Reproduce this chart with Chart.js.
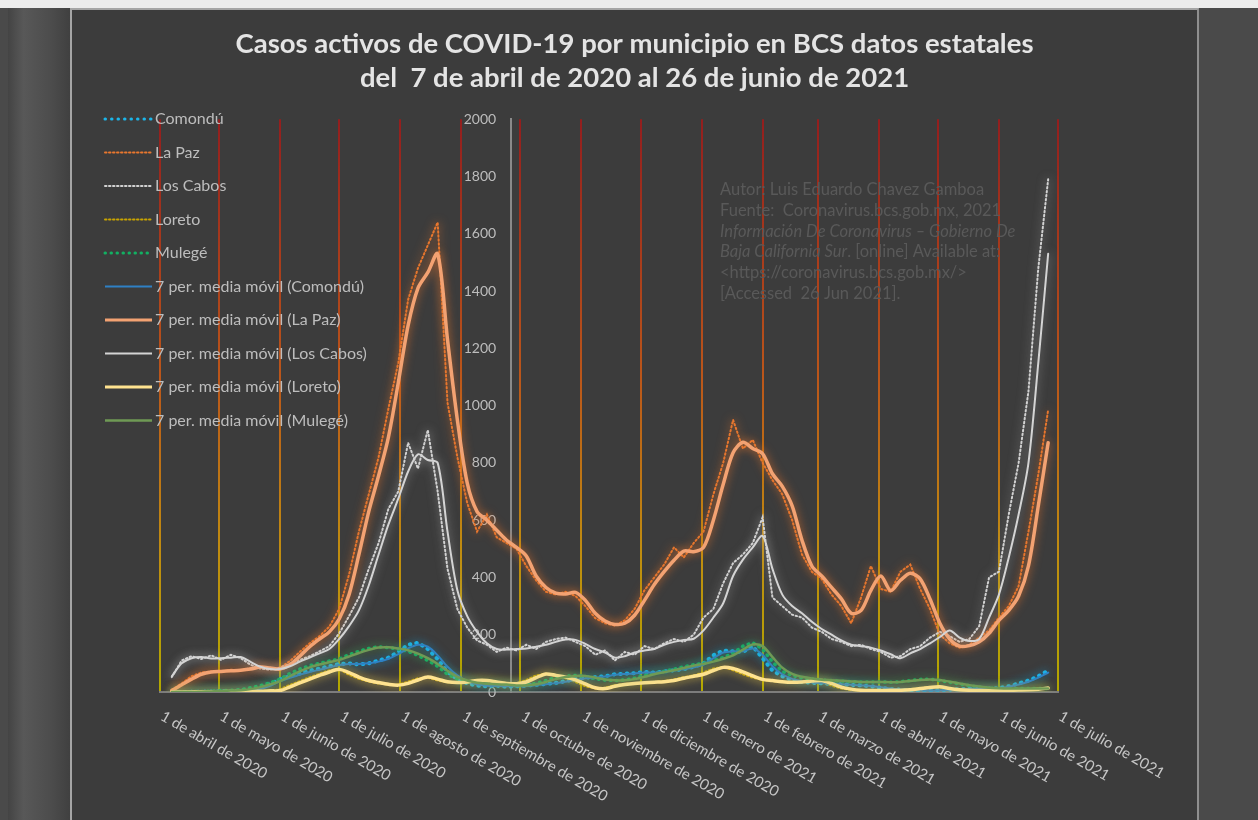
<!DOCTYPE html>
<html lang="es">
<head>
<meta charset="utf-8">
<title>Casos activos de COVID-19 por municipio en BCS</title>
<script src="https://cdn.jsdelivr.net/npm/chart.js@4.4.1/dist/chart.umd.min.js"></script>
<style>
  html, body { margin: 0; padding: 0; }
  body { width: 1258px; height: 820px; background: #4a4a4a; position: relative; overflow: hidden; }
  #franja { position: absolute; left: 0; top: 0; width: 1258px; height: 8px; background: #ececec; }
  #lateral { position: absolute; left: 8px; top: 8px; width: 62px; height: 812px;
    background: linear-gradient(90deg, #444444, #585858 25%, #4c4c4c 70%, #404040); }
  #marco { position: absolute; left: 70px; top: 8px; width: 1125px; height: 812px; background: #3c3c3c;
    border-left: 2px solid #a5a5a5; border-top: 2px solid #a5a5a5; border-right: 2px solid #8f8f8f; }
  canvas { display: block; }
</style>
</head>
<body>
<div id="franja"></div>
<div id="lateral"></div>
<div id="marco"><canvas id="grafica"></canvas></div>
<script>
// dias desde el 1 de abril de 2020 (una muestra cada 5 dias, 7 abr 2020 - 26 jun 2021)
const dias = [6, 11, 16, 21, 26, 31, 36, 41, 46, 51, 56, 61, 66, 71, 76, 81, 86, 91, 96, 101,
  106, 111, 116, 121, 126, 131, 136, 141, 146, 151, 156, 161, 166, 171, 176, 181, 186, 191, 196, 201,
  206, 211, 216, 221, 226, 231, 236, 241, 246, 251, 256, 261, 266, 271, 276, 281, 286, 291, 296, 301,
  306, 311, 316, 321, 326, 331, 336, 341, 346, 351, 356, 361, 366, 371, 376, 381, 386, 391, 396, 401,
  406, 411, 416, 421, 426, 431, 436, 441, 446, 451];

// inicio de cada mes (dias desde el 1 de abril de 2020) y sus etiquetas
const mesDias = [0, 30, 61, 91, 122, 153, 183, 214, 244, 275, 306, 334, 365, 395, 426, 456];
const etiquetasMes = ['1 de abril de 2020', '1 de mayo de 2020', '1 de junio de 2020', '1 de julio de 2020',
  '1 de agosto de 2020', '1 de septiembre de 2020', '1 de octubre de 2020', '1 de noviembre de 2020',
  '1 de diciembre de 2020', '1 de enero de 2021', '1 de febrero de 2021', '1 de marzo de 2021',
  '1 de abril de 2021', '1 de mayo de 2021', '1 de junio de 2021', '1 de julio de 2021'];

const comondu = [0, 0, 1, 1, 2, 2, 3, 5, 8, 15, 28, 45, 55, 65, 75, 82, 90, 98, 100, 96,
  100, 110, 120, 140, 165, 172, 150, 115, 70, 45, 30, 22, 20, 22, 18, 20, 22, 25, 28, 32,
  38, 45, 50, 52, 55, 62, 64, 66, 70, 68, 72, 76, 80, 88, 100, 128, 145, 142, 140, 160,
  118, 75, 55, 42, 35, 32, 30, 28, 27, 25, 23, 20, 15, 10, 8, 6, 5, 5, 6, 8,
  10, 12, 12, 12, 14, 20, 30, 40, 55, 75];
const laPaz = [8, 30, 55, 68, 72, 70, 78, 75, 84, 90, 80, 85, 108, 140, 170, 195, 228, 290, 410, 560,
  690, 820, 990, 1150, 1370, 1480, 1560, 1640, 1010, 820, 660, 560, 620, 540, 520, 500, 440, 390, 350, 340,
  350, 335, 300, 258, 240, 232, 250, 290, 355, 400, 445, 505, 470, 520, 560, 690, 800, 950, 850, 880,
  800, 740, 690, 600, 480, 420, 395, 340, 300, 240, 330, 440, 360, 350, 420, 445, 360, 290, 200, 170,
  155, 165, 190, 215, 260, 300, 370, 560, 760, 985];
const losCabos = [52, 110, 125, 115, 128, 112, 130, 118, 95, 82, 78, 85, 98, 112, 125, 142, 160, 205, 265, 330,
  430, 520, 640, 700, 870, 780, 915, 700, 430, 290, 225, 180, 165, 140, 155, 145, 165, 150, 175, 185,
  190, 175, 160, 130, 145, 110, 140, 130, 160, 150, 170, 185, 175, 200, 260, 290, 380, 450, 480, 520,
  610, 330, 300, 270, 260, 225, 210, 185, 175, 160, 165, 150, 140, 120, 125, 150, 160, 190, 210, 195,
  175, 185, 230, 400, 420, 620, 800, 1050, 1480, 1790];
const loreto = [0, 0, 1, 1, 1, 2, 2, 3, 3, 4, 4, 10, 25, 38, 52, 64, 76, 80, 60, 46,
  36, 30, 25, 26, 36, 48, 50, 40, 34, 33, 38, 42, 38, 32, 28, 31, 42, 58, 64, 55,
  48, 35, 20, 12, 15, 24, 28, 31, 33, 35, 38, 44, 52, 58, 68, 82, 88, 76, 62, 50,
  42, 38, 35, 34, 36, 40, 36, 22, 12, 7, 5, 5, 5, 6, 7, 10, 14, 18, 16, 10,
  7, 5, 5, 5, 6, 6, 8, 9, 12, 15];
const mulege = [0, 0, 1, 2, 3, 5, 6, 8, 15, 22, 32, 45, 65, 80, 92, 100, 108, 115, 130, 142,
  152, 158, 155, 150, 142, 128, 110, 90, 62, 45, 35, 30, 28, 27, 25, 22, 24, 30, 40, 50,
  55, 58, 54, 46, 42, 40, 42, 48, 58, 66, 72, 80, 88, 95, 100, 110, 120, 135, 160, 172,
  150, 105, 72, 58, 50, 45, 42, 40, 38, 36, 35, 35, 35, 34, 36, 40, 44, 45, 40, 34,
  28, 22, 17, 14, 12, 12, 12, 12, 12, 12];

// 7 per. media movil
const mmComondu = [0, 0, 0, 1, 1, 2, 2, 4, 6, 11, 22, 38, 50, 60, 70, 78, 86, 94, 98, 98,
  100, 106, 116, 132, 152, 165, 158, 128, 88, 58, 38, 27, 22, 21, 20, 20, 21, 24, 27, 31,
  36, 42, 48, 51, 54, 60, 63, 65, 68, 68, 71, 75, 79, 86, 96, 118, 138, 142, 142, 152,
  130, 90, 62, 46, 38, 33, 31, 29, 27, 25, 23, 21, 17, 12, 9, 7, 6, 5, 6, 7,
  9, 11, 12, 12, 13, 18, 26, 36, 50, 68];
const mmLaPaz = [5, 25, 45, 62, 70, 72, 74, 76, 80, 87, 84, 80, 95, 125, 158, 185, 210, 255, 340, 480,
  630, 755, 890, 1080, 1280, 1410, 1465, 1530, 1230, 950, 730, 630, 600, 565, 530, 505, 475, 405, 365, 345,
  342, 348, 320, 275, 248, 236, 240, 268, 320, 375, 420, 460, 492, 490, 505, 600, 725, 835, 872, 850,
  832, 762, 718, 650, 530, 440, 405, 365, 325, 275, 285, 355, 405, 354, 390, 415, 395, 325, 240, 185,
  160, 162, 175, 205, 250, 285, 335, 440, 650, 870];
const mmLosCabos = [55, 100, 118, 122, 117, 118, 120, 122, 105, 88, 80, 80, 90, 106, 120, 135, 150, 185, 230, 285,
  372, 480, 585, 675, 770, 830, 810, 800, 560, 355, 265, 210, 170, 150, 148, 150, 152, 158, 165, 175,
  183, 182, 168, 150, 138, 120, 125, 138, 145, 150, 165, 175, 182, 186, 215, 260, 310, 405, 462, 505,
  545, 430, 340, 300, 275, 245, 220, 200, 180, 165, 160, 155, 145, 132, 118, 135, 150, 170, 192, 215,
  190, 178, 185, 260, 340, 470, 620, 800, 1150, 1530];
const mmLoreto = [0, 0, 0, 1, 1, 1, 2, 2, 3, 3, 4, 5, 18, 32, 45, 58, 70, 79, 68, 52,
  40, 33, 27, 24, 30, 42, 52, 45, 36, 33, 35, 40, 40, 35, 30, 29, 35, 50, 63, 58,
  52, 42, 28, 15, 12, 20, 26, 30, 32, 34, 36, 40, 48, 55, 62, 75, 86, 82, 70, 56,
  44, 40, 36, 34, 35, 38, 40, 30, 17, 10, 6, 5, 5, 6, 6, 8, 12, 16, 18, 12,
  8, 6, 5, 5, 5, 6, 7, 8, 10, 14];
const mmMulege = [0, 0, 0, 1, 2, 3, 5, 6, 10, 17, 26, 38, 55, 72, 86, 96, 104, 112, 124, 136,
  147, 155, 156, 152, 146, 134, 118, 98, 74, 53, 40, 32, 29, 27, 26, 23, 23, 27, 35, 45,
  52, 56, 56, 50, 44, 41, 41, 45, 53, 62, 69, 76, 84, 92, 98, 106, 116, 128, 148, 166,
  160, 122, 85, 63, 53, 47, 43, 41, 39, 37, 35, 35, 35, 34, 35, 38, 42, 44, 42, 36,
  30, 24, 19, 15, 13, 12, 12, 12, 12, 12];

const ejeYEn = 178; // el eje vertical cruza aqui (dias)

const notaAutor = [
  [['Autor: Luis Eduardo Chavez Gamboa', false]],
  [['Fuente:  Coronavirus.bcs.gob.mx, 2021', false]],
  [['Información De Coronavirus – Gobierno De', true]],
  [['Baja California Sur', true], ['. [online] Available at:', false]],
  [['<https://coronavirus.bcs.gob.mx/>', false]],
  [['[Accessed  26 Jun 2021].', false]]
];

function degradado(chart) {
  const area = chart.chartArea;
  if (!area) return '#a02020';
  const g = chart.ctx.createLinearGradient(0, area.top, 0, area.bottom);
  g.addColorStop(0, '#931e1e');
  g.addColorStop(0.45, '#bb561a');
  g.addColorStop(0.75, '#c08c10');
  g.addColorStop(1, '#b2a800');
  return g;
}

function punteada(label, data, color, glow, width, dash) {
  return {
    label, data, borderColor: color, backgroundColor: color, borderWidth: width,
    borderDash: dash, borderCapStyle: 'round', glow, pointRadius: 0, fill: false, tension: 0
  };
}
function continua(label, data, color, glow, width) {
  return {
    label, data, borderColor: color, backgroundColor: color, borderWidth: width,
    borderDash: [], borderCapStyle: 'round', glow, pointRadius: 0, fill: false, tension: 0.3
  };
}

const brillo = {
  id: 'brillo',
  beforeDatasetDraw(chart, args) {
    const ds = chart.data.datasets[args.index];
    chart.ctx.save();
    chart.ctx.shadowColor = ds.glow;
    chart.ctx.shadowBlur = 10;
  },
  afterDatasetDraw(chart) {
    chart.ctx.restore();
  }
};

const leyenda = {
  id: 'leyenda',
  afterDatasetsDraw(chart, args, opts) {
    const ctx = chart.ctx;
    ctx.save();
    ctx.font = '16px Lato';
    ctx.textBaseline = 'middle';
    ctx.textAlign = 'left';
    chart.data.datasets.forEach((ds, i) => {
      const y = opts.y + i * opts.paso;
      ctx.save();
      ctx.strokeStyle = ds.borderColor;
      ctx.lineWidth = Math.min(ds.borderWidth, 3);
      ctx.setLineDash(ds.borderDash);
      ctx.lineCap = ds.borderDash.length ? 'round' : 'butt';
      ctx.beginPath();
      ctx.moveTo(opts.x, y);
      ctx.lineTo(opts.x + opts.largo, y);
      ctx.stroke();
      ctx.restore();
      ctx.fillStyle = '#bdbdbd';
      ctx.fillText(ds.label, opts.x + opts.largo + 3, y);
    });
    ctx.restore();
  }
};

const etiquetasX = {
  id: 'etiquetasX',
  afterDraw(chart) {
    const {ctx, chartArea} = chart;
    const x = chart.scales.x;
    ctx.save();
    ctx.font = '15px Lato';
    ctx.fillStyle = '#c6c6c6';
    ctx.textAlign = 'left';
    ctx.textBaseline = 'middle';
    x.ticks.forEach((t, i) => {
      ctx.save();
      ctx.translate(x.getPixelForValue(t.value) + 2, chartArea.bottom + 23);
      ctx.rotate(30 * Math.PI / 180);
      ctx.fillText(etiquetasMes[i], 0, 0);
      ctx.restore();
    });
    ctx.restore();
  }
};

const nota = {
  id: 'nota',
  beforeDatasetsDraw(chart, args, opts) {
    const ctx = chart.ctx;
    ctx.save();
    ctx.fillStyle = '#595959';
    ctx.textBaseline = 'middle';
    notaAutor.forEach((linea, i) => {
      let px = opts.x;
      linea.forEach(([txt, cursiva]) => {
        ctx.font = (cursiva ? 'italic ' : '') + '16.5px Lato';
        ctx.fillText(txt, px, opts.y + i * opts.paso);
        px += ctx.measureText(txt).width;
      });
    });
    ctx.restore();
  }
};

const datasets = [
  punteada('Comondú', comondu, '#1bb6ea', 'rgba(27,182,234,0.6)', 4, [0.5, 6]),
  punteada('La Paz', laPaz, '#e8772e', 'rgba(232,119,46,0.8)', 2, [1.5, 2.5]),
  punteada('Los Cabos', losCabos, '#d2d2d2', 'rgba(210,210,210,0.6)', 2, [1.5, 2.5]),
  punteada('Loreto', loreto, '#c9a400', 'rgba(201,164,0,0.6)', 2, [1.5, 2.5]),
  punteada('Mulegé', mulege, '#12b062', 'rgba(18,176,98,0.6)', 3.5, [0.5, 5.5]),
  continua('7 per. media móvil (Comondú)', mmComondu, '#2f80c4', 'rgba(47,128,196,0.6)', 2),
  continua('7 per. media móvil (La Paz)', mmLaPaz, '#f3a272', 'rgba(232,119,46,0.8)', 3.5),
  continua('7 per. media móvil (Los Cabos)', mmLosCabos, '#d4d4d4', 'rgba(210,210,210,0.6)', 2),
  continua('7 per. media móvil (Loreto)', mmLoreto, '#ffe390', 'rgba(255,220,90,0.7)', 3.5),
  continua('7 per. media móvil (Mulegé)', mmMulege, '#6f9a55', 'rgba(111,154,85,0.6)', 2.5)
];
datasets.forEach((ds, i) => { ds.order = datasets.length - i; });

Chart.defaults.font.family = 'Lato';

new Chart(document.getElementById('grafica'), {
  type: 'line',
  data: { labels: dias, datasets },
  options: {
    responsive: true,
    maintainAspectRatio: false,
    animation: false,
    layout: { padding: { left: 88, right: 88, top: 0, bottom: 130 } },
    scales: {
      x: {
        type: 'linear',
        min: 0,
        max: 456,
        afterBuildTicks(scale) {
          scale.ticks = mesDias.map(v => ({ value: v }));
        },
        ticks: { display: false },
        grid: { color: ctx => degradado(ctx.chart), lineWidth: 2, drawTicks: false },
        border: { display: true, color: '#7d7d7d', width: 2 }
      },
      y: {
        position: { x: ejeYEn },
        min: 0,
        max: 2000,
        ticks: {
          stepSize: 200,
          color: '#bdbdbd',
          font: { size: 14 },
          callback: v => v + '    '
        },
        grid: { display: false },
        border: { display: true, color: '#8a8a8a', width: 2 }
      },
      margen: {
        // eje vacio a la derecha: solo reserva espacio para que el titulo quede centrado
        axis: 'y',
        position: 'right',
        display: true,
        ticks: { display: false },
        grid: { display: false },
        border: { display: false },
        afterFit(scale) { scale.width = 51; }
      }
    },
    plugins: {
      legend: { display: false },
      tooltip: { enabled: false },
      title: {
        display: true,
        text: ['Casos activos de COVID-19 por municipio en BCS datos estatales',
          'del  7 de abril de 2020 al 26 de junio de 2021'],
        color: '#e4e4e4',
        font: { size: 27.5, weight: 'bold', lineHeight: 1.24 },
        padding: { top: 17, bottom: 24 }
      },
      leyenda: { x: 33, y: 109, paso: 33.5, largo: 47 },
      nota: { x: 648, y: 180, paso: 20.7 }
    }
  },
  plugins: [brillo, nota, leyenda, etiquetasX]
});
</script>
</body>
</html>
